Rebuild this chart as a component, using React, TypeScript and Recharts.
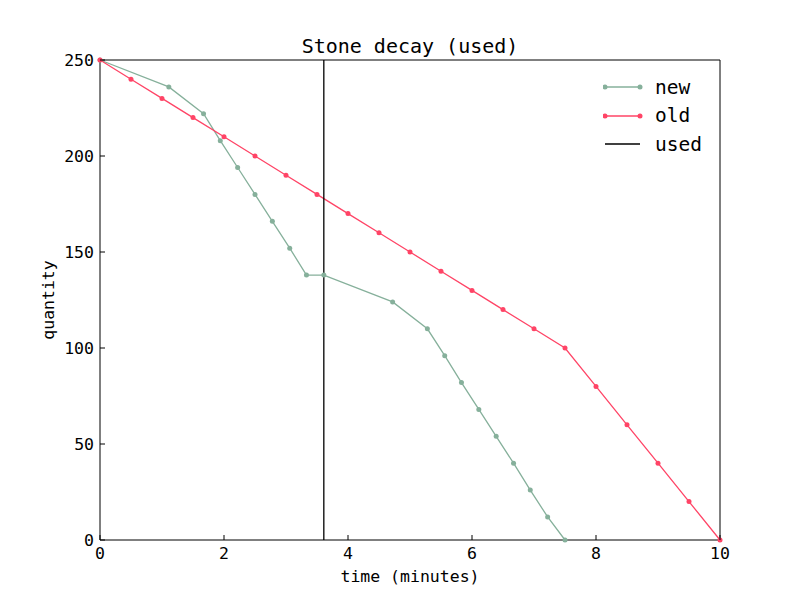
import React from "react";
import {
  LineChart,
  Line,
  XAxis,
  YAxis,
  ReferenceLine,
} from "recharts";

// values
const newTimes = [0, 1.11, 1.67, 1.94, 2.22, 2.5, 2.78, 3.06, 3.33, 3.61, 4.72, 5.28, 5.56, 5.83, 6.11, 6.39, 6.67, 6.94, 7.22, 7.5];
const newQty = [250, 236, 222, 208, 194, 180, 166, 152, 138, 138, 124, 110, 96, 82, 68, 54, 40, 26, 12, 0];
const oldTimes = [0, 0.5, 1, 1.5, 2, 2.5, 3, 3.5, 4, 4.5, 5, 5.5, 6, 6.5, 7, 7.5, 8, 8.5, 9, 9.5, 10];
const oldQty = [250, 240, 230, 220, 210, 200, 190, 180, 170, 160, 150, 140, 130, 120, 110, 100, 80, 60, 40, 20, 0];
const usedTime = 3.61;
const xTicks = [0, 2, 4, 6, 8, 10];
const yTicks = [0, 50, 100, 150, 200, 250];

const legendItems = [
  { name: "new", color: "#86b09b", dot: true },
  { name: "old", color: "#ff4466", dot: true },
  { name: "used", color: "#000000", dot: false },
];

const newData = newTimes.map((t, i) => ({ t, q: newQty[i] }));
const oldData = oldTimes.map((t, i) => ({ t, q: oldQty[i] }));

const FONT = "'DejaVu Sans Mono', monospace";
const TICK = 5;

const BottomTick = (props: any) => {
  const { x, y, payload } = props;
  return (
    <g>
      <line x1={x} y1={y} x2={x} y2={y - TICK} stroke="#000" />
      <text x={x} y={y + 19} textAnchor="middle" fontFamily={FONT} fontSize={16.5} fill="#000">
        {payload.value}
      </text>
    </g>
  );
};

const TopTick = (props: any) => {
  const { x, y } = props;
  return <line x1={x} y1={y} x2={x} y2={y + TICK} stroke="#000" />;
};

const LeftTick = (props: any) => {
  const { x, y, payload } = props;
  return (
    <g>
      <line x1={x} y1={y} x2={x + TICK} y2={y} stroke="#000" />
      <text x={x - 6} y={y + 6} textAnchor="end" fontFamily={FONT} fontSize={16.5} fill="#000">
        {payload.value}
      </text>
    </g>
  );
};

const RightTick = (props: any) => {
  const { x, y } = props;
  return <line x1={x} y1={y} x2={x - TICK} y2={y} stroke="#000" />;
};

const LegendBox = () => (
  <div style={{ position: "absolute", left: 603, top: 73, fontFamily: FONT, fontSize: 19.5 }}>
    {legendItems.map((item) => (
      <div key={item.name} style={{ display: "flex", alignItems: "center", height: 28.5 }}>
        <svg width={52} height={12}>
          <line x1={2} y1={6} x2={37} y2={6} stroke={item.color} strokeWidth={1.3} />
          {item.dot && <circle cx={2} cy={6} r={2.5} fill={item.color} />}
          {item.dot && <circle cx={37} cy={6} r={2.5} fill={item.color} />}
        </svg>
        <span>{item.name}</span>
      </div>
    ))}
  </div>
);

export default function App() {
  return (
    <div style={{ position: "absolute", left: 0, top: 0, width: 800, height: 600, background: "#fff" }}>
      <div style={{ position: "absolute", left: 0, width: 820, top: 34, textAlign: "center", fontFamily: FONT, fontSize: 20 }}>
        Stone decay (used)
      </div>
      <div style={{ position: "absolute", left: 0, width: 820, top: 567, textAlign: "center", fontFamily: FONT, fontSize: 16.5 }}>
        time (minutes)
      </div>
      <div
        style={{
          position: "absolute",
          left: 48,
          top: 300,
          transform: "translate(-50%, -50%) rotate(-90deg)",
          fontFamily: FONT,
          fontSize: 16.5,
          whiteSpace: "nowrap",
        }}
      >
        quantity
      </div>
      <LineChart width={800} height={600} margin={{ top: 59, right: 79, left: 0, bottom: 0 }}>
        <XAxis
          xAxisId="b"
          type="number"
          dataKey="t"
          domain={[0, 10]}
          ticks={xTicks}
          height={60}
          tickSize={0}
          tickMargin={0}
          tickLine={false}
          axisLine={{ stroke: "#000" }}
          tick={<BottomTick />}
          interval={0}
        />
        <XAxis
          xAxisId="t"
          orientation="top"
          type="number"
          dataKey="t"
          domain={[0, 10]}
          ticks={xTicks}
          height={1}
          tickSize={0}
          tickMargin={0}
          tickLine={false}
          axisLine={{ stroke: "#000" }}
          tick={<TopTick />}
          interval={0}
        />
        <YAxis
          yAxisId="l"
          type="number"
          domain={[0, 250]}
          ticks={yTicks}
          width={100}
          tickSize={0}
          tickMargin={0}
          tickLine={false}
          axisLine={{ stroke: "#000" }}
          tick={<LeftTick />}
          interval={0}
        />
        <YAxis
          yAxisId="r"
          orientation="right"
          type="number"
          domain={[0, 250]}
          ticks={yTicks}
          width={1}
          tickSize={0}
          tickMargin={0}
          tickLine={false}
          axisLine={{ stroke: "#000" }}
          tick={<RightTick />}
          interval={0}
        />
        <Line
          xAxisId="b"
          yAxisId="l"
          data={newData}
          dataKey="q"
          name="new"
          stroke="#86b09b"
          strokeWidth={1.3}
          dot={{ r: 2.5, fill: "#86b09b", stroke: "none" }}
          activeDot={false}
          isAnimationActive={false}
        />
        <Line
          xAxisId="b"
          yAxisId="l"
          data={oldData}
          dataKey="q"
          name="old"
          stroke="#ff4466"
          strokeWidth={1.3}
          dot={{ r: 2.5, fill: "#ff4466", stroke: "none" }}
          activeDot={false}
          isAnimationActive={false}
        />
        <ReferenceLine xAxisId="b" yAxisId="l" x={usedTime} stroke="#000" strokeWidth={1.3} />
      </LineChart>
      <LegendBox />
    </div>
  );
}
